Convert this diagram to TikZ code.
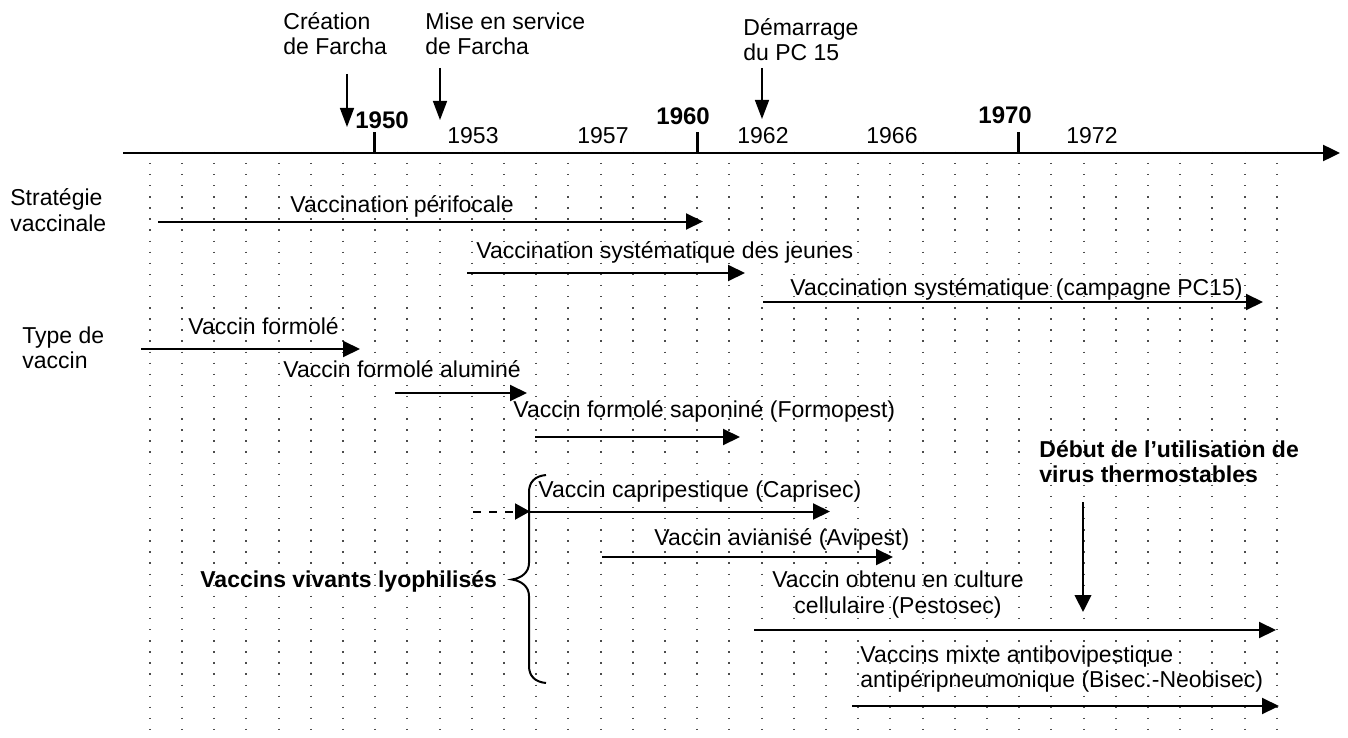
\documentclass[tikz,border=0pt]{standalone}
\usepackage{fontspec}
\setmainfont{Liberation Sans}
\usetikzlibrary{arrows.meta}
\begin{document}
\begin{tikzpicture}[x=0.5pt,y=-0.5pt,
  txt/.style={inner sep=0pt, anchor=base west, font=\fontsize{11.5}{12.5}\selectfont},
  txtc/.style={inner sep=0pt, anchor=base, font=\fontsize{11.5}{12.5}\selectfont},
  btxt/.style={inner sep=0pt, anchor=base west, font=\fontsize{11.5}{12.5}\selectfont\bfseries},
  yearb/.style={inner sep=0pt, anchor=base west, font=\fontsize{12}{13}\selectfont\bfseries},
  griddot/.style={line width=1pt, black!70, dash pattern=on 0.7pt off 4.85pt},
  bar/.style={line width=1pt, -{Triangle[length=8.5pt,width=8pt]}},
  dashbar/.style={line width=1pt, dash pattern=on 4pt off 4pt, -{Triangle[length=7.5pt,width=8pt]}},
  evt/.style={line width=0.75pt, -{Triangle[length=9.5pt,width=7pt]}},
  evtb/.style={line width=1pt, -{Triangle[length=8.5pt,width=8.3pt]}},
  axisline/.style={line width=1.2pt, -{Triangle[length=8.5pt,width=8pt]}},
  tickmark/.style={line width=1.5pt},
  bracestyle/.style={line width=1pt}
]
\useasboundingbox (0,0) rectangle (1348,738);

% dotted grid (one line per year, 1943 to 1978)
\foreach \k in {0,...,35}{
  \draw[griddot] ({149.8+32.2*\k},151.7) -- ({149.8+32.2*\k},738);
}

% time axis
\coordinate (axA) at (123,153);
\coordinate (axB) at (1340,153);
\draw[axisline] (axA) -- (axB);
\coordinate (t50a) at (374,132); \coordinate (t50b) at (374,153);
\coordinate (t60a) at (697,132); \coordinate (t60b) at (697,153);
\coordinate (t70a) at (1018,132); \coordinate (t70b) at (1018,153);
\draw[tickmark] (t50a) -- (t50b);
\draw[tickmark] (t60a) -- (t60b);
\draw[tickmark] (t70a) -- (t70b);

% years
\node[yearb] (y1950) at (355,128) {1950};
\node[txt] (y1953) at (447,143) {1953};
\node[txt] (y1957) at (577,143) {1957};
\node[yearb] (y1960) at (656,125) {1960};
\node[txt] (y1962) at (737,143) {1962};
\node[txt] (y1966) at (866,143) {1966};
\node[yearb] (y1970) at (978,124) {1970};
\node[txt] (y1972) at (1066,143) {1972};

% events above the axis
\node[txt] (creA) at (283,30) {Création};
\node[txt] (creB) at (283,55) {de Farcha};
\coordinate (creS) at (347,74); \coordinate (creE) at (347,127);
\draw[evt] (creS) -- (creE);

\node[txt] (misA) at (425,30) {Mise en service};
\node[txt] (misB) at (425,55) {de Farcha};
\coordinate (misS) at (440,68); \coordinate (misE) at (440,120);
\draw[evt] (misS) -- (misE);

\node[txt] (demA) at (743,36) {Démarrage};
\node[txt] (demB) at (743,61) {du PC 15};
\coordinate (demS) at (762,68); \coordinate (demE) at (762,119);
\draw[evt] (demS) -- (demE);

% row labels
\node[txt] (strA) at (10,205) {Stratégie};
\node[txt] (strB) at (10,231) {vaccinale};
\node[txt] (typA) at (22,343) {Type de};
\node[txt] (typB) at (22,368) {vaccin};

% vaccination strategies
\node[txt] (per) at (290,212) {Vaccination périfocale};
\coordinate (perA) at (158,221.5); \coordinate (perB) at (703,221.5);
\draw[bar] (perA) -- (perB);

\node[txt] (jeu) at (476,258) {Vaccination systématique des jeunes};
\coordinate (jeuA) at (467,273); \coordinate (jeuB) at (745,273);
\draw[bar] (jeuA) -- (jeuB);

\node[txt] (pc) at (790,295) {Vaccination systématique (campagne PC15)};
\coordinate (pcA) at (763,302); \coordinate (pcB) at (1263,302);
\draw[bar] (pcA) -- (pcB);

% vaccine types
\node[txt] (form) at (188,334) {Vaccin formolé};
\coordinate (formA) at (141,349); \coordinate (formB) at (360,349);
\draw[bar] (formA) -- (formB);

\node[txt] (alu) at (283,377) {Vaccin formolé aluminé};
\coordinate (aluA) at (395,393); \coordinate (aluB) at (527,393);
\draw[bar] (aluA) -- (aluB);

\node[txt] (sap) at (513,417) {Vaccin formolé saponiné (Formopest)};
\coordinate (sapA) at (535,437); \coordinate (sapB) at (740,437);
\draw[bar] (sapA) -- (sapB);

\node[txt] (cap) at (538,497) {Vaccin capripestique (Caprisec)};
\coordinate (capD) at (473,511.5); \coordinate (capA) at (530,511.5); \coordinate (capB) at (830,511.5);
\draw[dashbar] (capD) -- (capA);
\draw[bar] (capA) -- (capB);

\node[txt] (avi) at (654,545) {Vaccin avianisé (Avipest)};
\coordinate (aviA) at (602,557); \coordinate (aviB) at (893,557);
\draw[bar] (aviA) -- (aviB);

\node[txtc] (pesA) at (898,587) {Vaccin obtenu en culture};
\node[txtc] (pesB) at (898,613) {cellulaire (Pestosec)};
\coordinate (pesS) at (754,630); \coordinate (pesE) at (1276,630);
\draw[bar] (pesS) -- (pesE);

\node[txt] (bisA) at (860,662) {Vaccins mixte antibovipestique};
\node[txt] (bisB) at (860,687) {antipéripneumonique (Bisec.-Neobisec)};
\coordinate (bisS) at (852,706); \coordinate (bisE) at (1279,706);
\draw[bar] (bisS) -- (bisE);

% thermostable virus
\node[btxt] (debA) at (1039,457) {Début de l’utilisation de};
\node[btxt] (debB) at (1039,482) {virus thermostables};
\coordinate (debS) at (1083,502); \coordinate (debE) at (1083,612);
\draw[evtb] (debS) -- (debE);

% live vaccines brace
\node[btxt] (viv) at (200,587) {Vaccins vivants lyophilisés};
\draw[bracestyle] (546,475) .. controls (535,476) and (529,482) .. (529,492)
  -- (529,563) .. controls (529,572) and (522,578) .. (512,579.5)
  .. controls (522,581) and (529,587) .. (529,596)
  -- (529,666) .. controls (529,676) and (535,682) .. (546,683);
\end{tikzpicture}
\end{document}
